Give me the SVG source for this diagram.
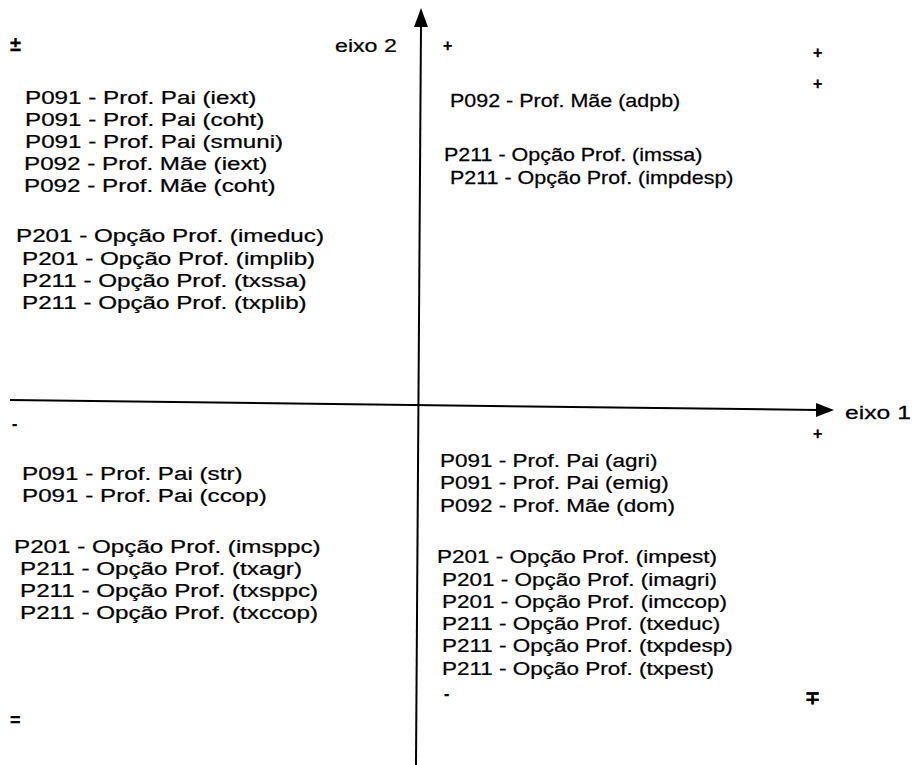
<svg xmlns="http://www.w3.org/2000/svg" width="922" height="765" viewBox="0 0 922 765">
<style>
text{font-family:"Liberation Sans",Arial,sans-serif;font-size:19px;fill:#000;stroke:#000;stroke-width:0.25}
.sym{font-size:16px;font-weight:bold}
.ax{stroke:#000;stroke-width:2;fill:none}
</style>
<rect width="922" height="765" fill="#fff"/>
<g id="connectors">
<line class="ax" x1="421" y1="24" x2="416" y2="765"/>
<polygon points="421,8 414,27 428,27" fill="#000"/>
<line class="ax" x1="10" y1="400" x2="818" y2="410"/>
<polygon points="834,410 816,403 816,417" fill="#000"/>
</g>
<g id="axis-labels">
<text id="eixo2" transform="matrix(1.22 0 0 1 335 52)">eixo 2</text>
<text id="eixo1" transform="matrix(1.3 0 0 1 845 419)">eixo 1</text>
<text class="sym" x="10" y="51" style="font-size:20px">±</text>
<text class="sym" x="443" y="51">+</text>
<text class="sym" x="813" y="58">+</text>
<text class="sym" x="813" y="89">+</text>
<text class="sym" x="813" y="439">+</text>
<text class="sym" x="12" y="429">-</text>
<text class="sym" x="10" y="726" style="font-size:18px">=</text>
<text class="sym" x="444" y="699">-</text>
<text class="sym" x="805" y="704" style="font-size:18px">∓</text>
</g>
<g id="q-top-left">
<text transform="matrix(1.274 0 0 1 25 104)">P091 - Prof. Pai (iext)</text>
<text transform="matrix(1.274 0 0 1 25 126)">P091 - Prof. Pai (coht)</text>
<text transform="matrix(1.274 0 0 1 25 148)">P091 - Prof. Pai (smuni)</text>
<text transform="matrix(1.274 0 0 1 24 170)">P092 - Prof. Mãe (iext)</text>
<text transform="matrix(1.274 0 0 1 24 192)">P092 - Prof. Mãe (coht)</text>
<text transform="matrix(1.274 0 0 1 16 242)">P201 - Opção Prof. (imeduc)</text>
<text transform="matrix(1.274 0 0 1 22 265)">P201 - Opção Prof. (implib)</text>
<text transform="matrix(1.274 0 0 1 22 287)">P211 - Opção Prof. (txssa)</text>
<text transform="matrix(1.274 0 0 1 22 309)">P211 - Opção Prof. (txplib)</text>
</g>
<g id="q-top-right">
<text transform="matrix(1.13 0 0 1 450 107)">P092 - Prof. Mãe (adpb)</text>
<text transform="matrix(1.13 0 0 1 444 161)">P211 - Opção Prof. (imssa)</text>
<text transform="matrix(1.13 0 0 1 450 184)">P211 - Opção Prof. (impdesp)</text>
</g>
<g id="q-bottom-left">
<text transform="matrix(1.274 0 0 1 22 480)">P091 - Prof. Pai (str)</text>
<text transform="matrix(1.274 0 0 1 22 502)">P091 - Prof. Pai (ccop)</text>
<text transform="matrix(1.274 0 0 1 14 553)">P201 - Opção Prof. (imsppc)</text>
<text transform="matrix(1.274 0 0 1 20 575)">P211 - Opção Prof. (txagr)</text>
<text transform="matrix(1.274 0 0 1 20 597)">P211 - Opção Prof. (txsppc)</text>
<text transform="matrix(1.274 0 0 1 20 619)">P211 - Opção Prof. (txccop)</text>
</g>
<g id="q-bottom-right">
<text transform="matrix(1.184 0 0 1 440 467)">P091 - Prof. Pai (agri)</text>
<text transform="matrix(1.184 0 0 1 440 489)">P091 - Prof. Pai (emig)</text>
<text transform="matrix(1.184 0 0 1 440 512)">P092 - Prof. Mãe (dom)</text>
<text transform="matrix(1.184 0 0 1 437 563)">P201 - Opção Prof. (impest)</text>
<text transform="matrix(1.184 0 0 1 442 586)">P201 - Opção Prof. (imagri)</text>
<text transform="matrix(1.184 0 0 1 442 608)">P201 - Opção Prof. (imccop)</text>
<text transform="matrix(1.184 0 0 1 442 630)">P211 - Opção Prof. (txeduc)</text>
<text transform="matrix(1.184 0 0 1 442 652)">P211 - Opção Prof. (txpdesp)</text>
<text transform="matrix(1.184 0 0 1 442 675)">P211 - Opção Prof. (txpest)</text>
</g>
</svg>
